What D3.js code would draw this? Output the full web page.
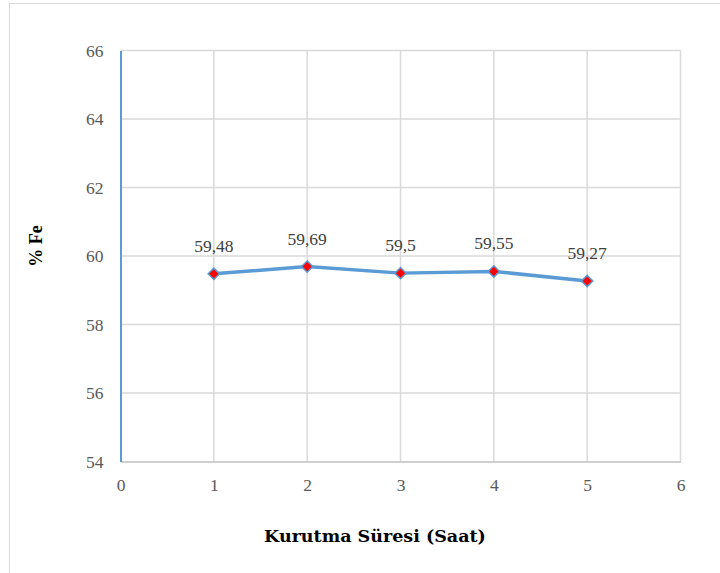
<!DOCTYPE html>
<html>
<head>
<meta charset="utf-8">
<script src="https://cdn.jsdelivr.net/npm/d3@7"></script>
<style>
  html, body { margin: 0; padding: 0; background: #fff; }
  svg { display: block; }
</style>
</head>
<body>
<svg id="chart" width="720" height="573"></svg>
<script>
// Fe content by drying time
const hours = [1, 2, 3, 4, 5];
const fePercent = [59.48, 59.69, 59.5, 59.55, 59.27];
const pointLabels = ["59,48", "59,69", "59,5", "59,55", "59,27"];
const xTicks = [0, 1, 2, 3, 4, 5, 6];
const yTicks = [54, 56, 58, 60, 62, 64, 66];
const xTitle = "Kurutma Süresi (Saat)";
const yTitle = "% Fe";

const svg = d3.select("#chart");
const plot = { left: 120.5, right: 680.5, top: 50.5, bottom: 461.5 };

const tickFont = "'Liberation Serif', serif";
const tickSize = 17.5;

// outer chart frame
svg.append("rect")
  .attr("x", 9.5).attr("y", 3.5)
  .attr("width", 740).attr("height", 600)
  .attr("fill", "#fff").attr("stroke", "#D9D9D9").attr("stroke-width", 1);

const x = d3.scaleLinear().domain([0, 6]).range([plot.left, plot.right]);
const y = d3.scaleLinear().domain([54, 66]).range([plot.bottom, plot.top]);

// gridlines
const grid = svg.append("g");
grid.selectAll("line.h").data(yTicks.slice(1)).join("line")
  .attr("x1", plot.left).attr("x2", plot.right)
  .attr("y1", d => y(d)).attr("y2", d => y(d))
  .attr("stroke", "#D9D9D9").attr("stroke-width", 1.5);
grid.selectAll("line.v").data(xTicks.slice(1)).join("line")
  .attr("x1", d => x(d)).attr("x2", d => x(d))
  .attr("y1", plot.top).attr("y2", plot.bottom)
  .attr("stroke", "#D9D9D9").attr("stroke-width", 1.5);

// x axis
const xAxis = svg.append("g")
  .attr("transform", `translate(0,${plot.bottom})`)
  .call(d3.axisBottom(x).tickValues(xTicks).tickSize(0).tickPadding(17).tickFormat(d3.format("d")));
xAxis.select(".domain").attr("stroke", "#BFBFBF").attr("stroke-width", 1.5);
xAxis.selectAll("text")
  .attr("font-family", tickFont).attr("font-size", tickSize).attr("fill", "#595959");

// y axis
const yAxis = svg.append("g")
  .attr("transform", `translate(${plot.left},0)`)
  .call(d3.axisLeft(y).tickValues(yTicks).tickSize(0).tickPadding(17).tickFormat(d3.format("d")));
yAxis.select(".domain").attr("stroke", "#5B9BD5").attr("stroke-width", 2);
yAxis.selectAll("text")
  .attr("font-family", tickFont).attr("font-size", tickSize).attr("fill", "#595959");

// series line
const pts = hours.map((h, i) => ({ h, v: fePercent[i], label: pointLabels[i] }));
svg.append("path")
  .datum(pts)
  .attr("fill", "none")
  .attr("stroke", "#5B9BD5")
  .attr("stroke-width", 3.5)
  .attr("stroke-linejoin", "round")
  .attr("d", d3.line().x(d => x(d.h)).y(d => y(d.v)));

// diamond markers
svg.append("g").selectAll("path").data(pts).join("path")
  .attr("transform", d => `translate(${x(d.h)},${y(d.v)}) rotate(45)`)
  .attr("d", d3.symbol().type(d3.symbolSquare).size(64))
  .attr("fill", "#FF0000")
  .attr("stroke", "#5B9BD5")
  .attr("stroke-width", 1.5);

// value labels
svg.append("g").selectAll("text").data(pts).join("text")
  .attr("x", d => x(d.h))
  .attr("y", d => y(d.v) - 22)
  .attr("text-anchor", "middle")
  .attr("font-family", tickFont).attr("font-size", tickSize).attr("fill", "#404040")
  .text(d => d.label);

// axis titles
svg.append("text")
  .attr("x", 375).attr("y", 542)
  .attr("text-anchor", "middle")
  .attr("font-family", "'DejaVu Serif', serif").attr("font-weight", "bold")
  .attr("font-size", 17.5).attr("fill", "#000")
  .text(xTitle);

svg.append("text")
  .attr("transform", "translate(42,246) rotate(-90)")
  .attr("text-anchor", "middle")
  .attr("font-family", "'Liberation Serif', serif").attr("font-weight", "bold")
  .attr("font-size", 18).attr("fill", "#000")
  .text(yTitle);
</script>
</body>
</html>
